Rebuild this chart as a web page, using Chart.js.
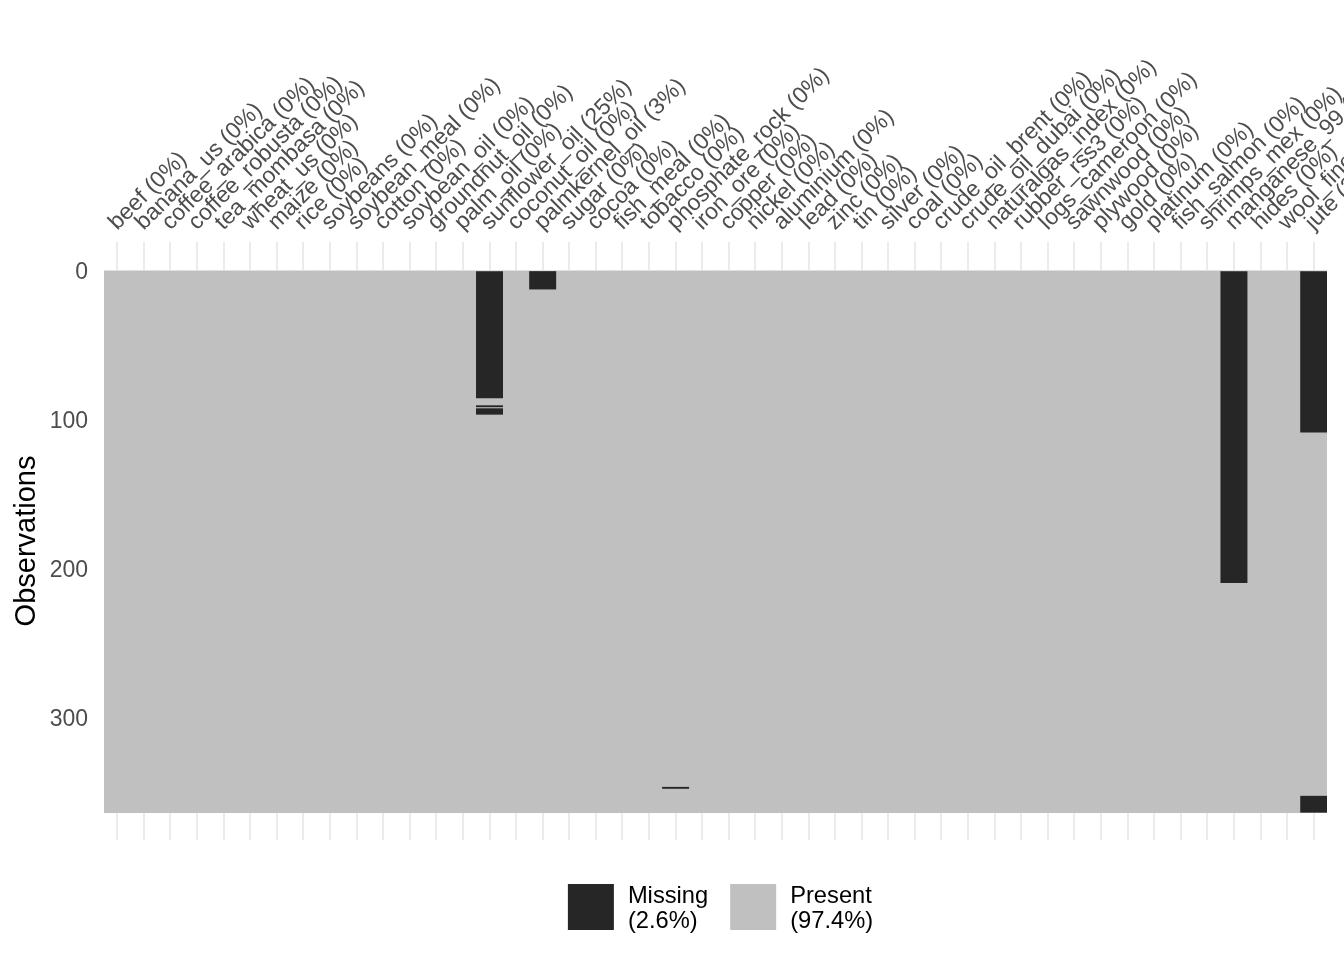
<!DOCTYPE html>
<html>
<head>
<meta charset="utf-8">
<script src="https://cdn.jsdelivr.net/npm/chart.js@4.4.1/dist/chart.umd.min.js"></script>
<style>
  html, body { margin: 0; padding: 0; background: #ffffff; }
  canvas { display: block; }
</style>
</head>
<body>
<canvas id="chart" width="1344" height="960"></canvas>
<script>
// ---- data ----
const variables = [
  'beef', 'banana_us', 'coffee_arabica', 'coffee_robusta', 'tea_mombasa', 'wheat_us',
  'maize', 'rice', 'soybeans', 'soybean_meal', 'cotton', 'soybean_oil', 'groundnut_oil',
  'palm_oil', 'sunflower_oil', 'coconut_oil', 'palmkernel_oil', 'sugar', 'cocoa',
  'fish_meal', 'tobacco', 'phosphate_rock', 'iron_ore', 'copper', 'nickel', 'aluminium',
  'lead', 'zinc', 'tin', 'silver', 'coal', 'crude_oil_brent', 'crude_oil_dubai',
  'naturalgas_index', 'rubber_rss3', 'logs_cameroon', 'sawnwood', 'plywood', 'gold',
  'platinum', 'fish_salmon', 'shrimps_mex', 'manganese_99', 'hides', 'wool_fine', 'jute'
];
const nRows = 363;
// runs of missing observations (row numbers, inclusive)
const runColumn = ['sunflower_oil', 'sunflower_oil', 'sunflower_oil', 'palmkernel_oil',
                   'phosphate_rock', 'manganese_99', 'jute', 'jute'];
const runStart  = [1, 91, 93, 1, 347, 1, 1, 353];
const runEnd    = [85, 91, 96, 12, 347, 209, 108, 363];
const yTickValues = [0, 50, 100, 150, 200, 250, 300, 350];
const legendNames = ['Missing', 'Present'];

// ---- derived ----
const MISSING_COLOR = '#262626';
const PRESENT_COLOR = '#C0C0C0';
const FONT = "'Liberation Sans', Arial, Helvetica, sans-serif";

const runsByVar = {};
variables.forEach(v => { runsByVar[v] = []; });
runColumn.forEach((v, i) => runsByVar[v].push([runStart[i], runEnd[i]]));

const missingCount = variables.map(v => runsByVar[v].reduce((s, r) => s + (r[1] - r[0] + 1), 0));
const xLabels = variables.map((v, i) => `${v} (${Math.round(100 * missingCount[i] / nRows)}%)`);
const totalMissing = missingCount.reduce((a, b) => a + b, 0);
const missPct = (100 * totalMissing / (variables.length * nRows)).toFixed(1);
const presPct = (100 - parseFloat(missPct)).toFixed(1);
const legendItems = [
  { lines: [legendNames[0], `(${missPct}%)`], color: MISSING_COLOR },
  { lines: [legendNames[1], `(${presPct}%)`], color: PRESENT_COLOR }
];

const maxRuns = Math.max(...variables.map(v => runsByVar[v].length));

const datasets = [{
  label: legendNames[1],
  data: variables.map(() => [0.5, nRows + 0.5]),
  backgroundColor: PRESENT_COLOR,
  borderWidth: 0,
  inflateAmount: 0.6,
  grouped: false,
  barPercentage: 1,
  categoryPercentage: 1,
  order: 2
}];
for (let k = 0; k < maxRuns; k++) {
  datasets.push({
    label: legendNames[0],
    data: variables.map(v => runsByVar[v][k] ? [runsByVar[v][k][0] - 0.5, runsByVar[v][k][1] + 0.5] : null),
    backgroundColor: MISSING_COLOR,
    borderWidth: 0,
    inflateAmount: 0.2,
    grouped: false,
    barPercentage: 1,
    categoryPercentage: 1,
    order: 1
  });
}

// legend drawn below the panel, ggplot style (box + two-line text)
const bottomLegend = {
  id: 'bottomLegend',
  afterDraw(chart) {
    const ctx = chart.ctx;
    const area = chart.chartArea;
    const box = 46, gapText = 14, gapItem = 22, lineGap = 25;
    ctx.save();
    ctx.font = `23.7px ${FONT}`;
    ctx.textBaseline = 'middle';
    ctx.textAlign = 'left';
    const widths = legendItems.map(it => box + gapText + Math.max(...it.lines.map(l => ctx.measureText(l).width)));
    const total = widths.reduce((a, b) => a + b, 0) + gapItem * (legendItems.length - 1);
    let x = (area.left + area.right) / 2 - total / 2 + 5;
    const top = area.bottom + 44;
    legendItems.forEach((it, i) => {
      ctx.fillStyle = it.color;
      ctx.fillRect(x, top, box, box);
      ctx.fillStyle = '#000000';
      it.lines.forEach((l, j) => ctx.fillText(l, x + box + gapText, top + 12 + j * lineGap));
      x += widths[i] + gapItem;
    });
    ctx.restore();
  }
};

new Chart(document.getElementById('chart'), {
  type: 'bar',
  data: { labels: xLabels, datasets },
  plugins: [bottomLegend],
  options: {
    responsive: false,
    animation: false,
    layout: { padding: { top: 0, right: 17, bottom: 120, left: 0 } },
    plugins: {
      tooltip: { enabled: false },
      legend: { display: false }
    },
    scales: {
      x: {
        position: 'top',
        offset: true,
        grid: { offset: false, color: '#EBEBEB', lineWidth: 2, drawTicks: false },
        border: { display: false },
        ticks: {
          autoSkip: false,
          minRotation: 45,
          maxRotation: 45,
          padding: 6,
          labelOffset: 15,
          color: '#4D4D4D',
          font: { family: FONT, size: 23 }
        },
        afterFit: (s) => { s.height = 242; s.paddingLeft = 0; s.paddingRight = 0; }
      },
      y: {
        type: 'linear',
        reverse: true,
        min: -19.2,
        max: 382,
        afterBuildTicks: (s) => { s.ticks = yTickValues.map(v => ({ value: v })); },
        grid: {
          color: '#EBEBEB',
          lineWidth: (c) => (c.tick && c.tick.value % 100 === 0) ? 1.5 : 0.8,
          drawTicks: false
        },
        border: { display: false },
        ticks: {
          padding: 16,
          labelOffset: 2,
          color: '#4D4D4D',
          font: { family: FONT, size: 23 },
          callback: (v) => (v % 100 === 0 ? String(v) : '')
        },
        title: {
          display: true,
          text: 'Observations',
          color: '#000000',
          font: { family: FONT, size: 29, lineHeight: 1.2 },
          padding: { top: 10, bottom: 0 }
        },
        afterFit: (s) => { s.width = 104; s.paddingTop = 0; s.paddingBottom = 0; }
      }
    }
  }
});
</script>
</body>
</html>
